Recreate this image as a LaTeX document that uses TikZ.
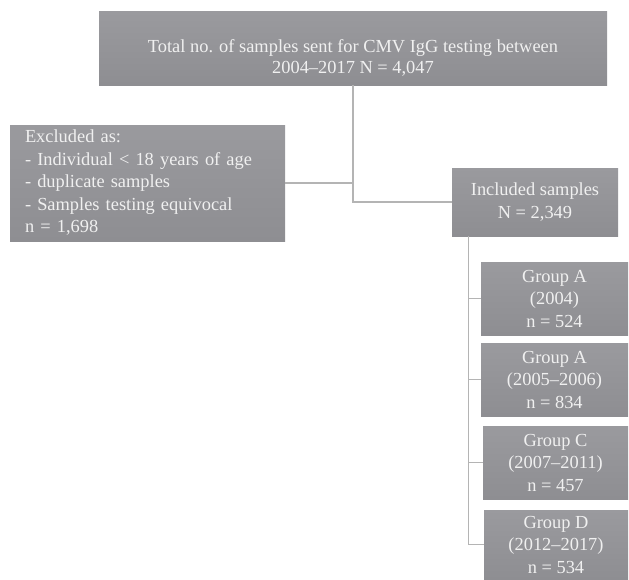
\documentclass[tikz,border=0pt]{standalone}
\usepackage{fontspec}
\setmainfont{Liberation Serif}
\begin{document}
\begin{tikzpicture}[x=1pt,y=-1pt,
  box/.style={draw=none,top color=boxtop,bottom color=boxbot,text=boxtext,
    inner sep=0pt,font=\fontsize{18.4}{22.5}\selectfont},
  link/.style={draw=linkgray,line width=1.1pt}]
\definecolor{boxtop}{HTML}{9A9A9E}
\definecolor{boxbot}{HTML}{8E8E92}
\definecolor{boxtext}{HTML}{F0F0F0}
\definecolor{linkgray}{HTML}{B4B4B4}
\useasboundingbox (0,0) rectangle (629,579);
\node[box,minimum width=508pt,minimum height=74pt,align=center,text depth=0pt] (top) at (353,48)
  {\raisebox{-3pt}{\begin{tabular}{@{}c@{}}Total no. of samples sent for CMV IgG testing between\\[-1pt]2004--2017 N = 4,047\end{tabular}}};
\node[box,minimum width=275pt,minimum height=116pt,align=left,text width=245pt] (excl) at (147.5,183)
  {Excluded as:\\- Individual < 18 years of age\\- duplicate samples\\- Samples testing equivocal\\n = 1,698};
\node[box,minimum width=166pt,minimum height=68pt,align=center] (incl) at (535,202)
  {Included samples\\N = 2,349};
\node[box,minimum width=147pt,minimum height=73pt,align=center] (g1) at (554.5,298.5)
  {Group A\\(2004)\\n = 524};
\node[box,minimum width=147pt,minimum height=73pt,align=center] (g2) at (554.5,379.5)
  {Group A\\(2005--2006)\\n = 834};
\node[box,minimum width=145pt,minimum height=73pt,align=center] (g3) at (555.5,462.5)
  {Group C\\(2007--2011)\\n = 457};
\node[box,minimum width=144pt,minimum height=69pt,align=center] (g4) at (556,544.5)
  {Group D\\(2012--2017)\\n = 534};
\coordinate (trunk) at ([xshift=17pt]incl.south west);
\draw[link] (top.south) |- (incl.west);
\draw[link] (excl.east) -- (excl.east -| top.south);
\draw[link] (trunk) |- (g4.west);
\draw[link] (trunk |- g1.west) -- (g1.west);
\draw[link] (trunk |- g2.west) -- (g2.west);
\draw[link] (trunk |- g3.west) -- (g3.west);
\end{tikzpicture}
\end{document}
